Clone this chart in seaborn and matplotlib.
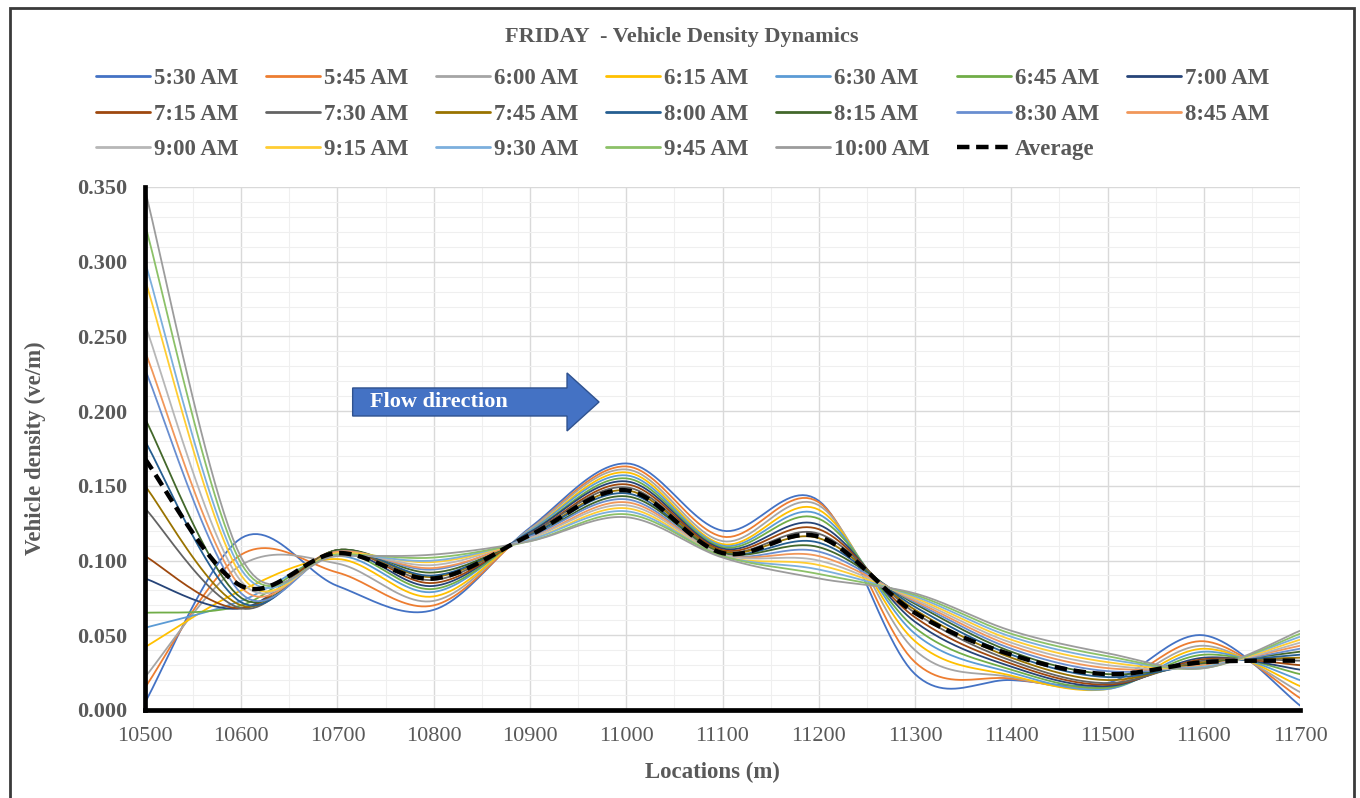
# Friday vehicle density plot

import numpy as np
import pandas as pd
import seaborn as sns
import matplotlib.pyplot as plt
from matplotlib.lines import Line2D
from matplotlib.patches import Polygon, Rectangle
from matplotlib.ticker import MultipleLocator

locations = [10500, 10600, 10700, 10800, 10900, 11000, 11100, 11200, 11300, 11400, 11500, 11600, 11700]

times = ['5:30 AM', '5:45 AM', '6:00 AM', '6:15 AM', '6:30 AM', '6:45 AM', '7:00 AM',
         '7:15 AM', '7:30 AM', '7:45 AM', '8:00 AM', '8:15 AM', '8:30 AM', '8:45 AM',
         '9:00 AM', '9:15 AM', '9:30 AM', '9:45 AM', '10:00 AM']

colors = ['#4472C4', '#ED7D31', '#A5A5A5', '#FFC000', '#5B9BD5', '#70AD47', '#264478',
          '#9E480E', '#636363', '#997300', '#255E91', '#43682B', '#698ED0', '#F1975A',
          '#B7B7B7', '#FFCD33', '#7CAFDD', '#8CC168', '#9C9C9C']

# density (ve/m) per time slot
d_0530 = [0.005, 0.115, 0.083, 0.067, 0.122, 0.165, 0.120, 0.140, 0.024, 0.020, 0.018, 0.050, 0.003]
d_0545 = [0.015, 0.104, 0.092, 0.070, 0.121, 0.163, 0.116, 0.139, 0.032, 0.021, 0.016, 0.046, 0.008]
d_0600 = [0.022, 0.097, 0.098, 0.073, 0.121, 0.161, 0.113, 0.137, 0.040, 0.022, 0.015, 0.043, 0.012]
d_0615 = [0.042, 0.080, 0.101, 0.076, 0.120, 0.159, 0.111, 0.134, 0.046, 0.023, 0.014, 0.041, 0.016]
d_0630 = [0.055, 0.073, 0.103, 0.079, 0.120, 0.157, 0.110, 0.131, 0.051, 0.025, 0.014, 0.039, 0.020]
d_0645 = [0.065, 0.070, 0.105, 0.081, 0.119, 0.155, 0.109, 0.128, 0.055, 0.027, 0.015, 0.037, 0.024]
d_0700 = [0.088, 0.068, 0.106, 0.083, 0.119, 0.153, 0.108, 0.124, 0.059, 0.029, 0.016, 0.035, 0.027]
d_0715 = [0.103, 0.068, 0.107, 0.085, 0.118, 0.151, 0.107, 0.121, 0.062, 0.031, 0.017, 0.034, 0.030]
d_0730 = [0.135, 0.068, 0.107, 0.087, 0.118, 0.149, 0.106, 0.118, 0.065, 0.033, 0.018, 0.033, 0.033]
d_0745 = [0.150, 0.070, 0.107, 0.089, 0.117, 0.147, 0.106, 0.115, 0.067, 0.035, 0.020, 0.032, 0.035]
d_0800 = [0.180, 0.072, 0.107, 0.090, 0.117, 0.145, 0.105, 0.112, 0.069, 0.037, 0.022, 0.031, 0.037]
d_0815 = [0.195, 0.075, 0.107, 0.092, 0.116, 0.143, 0.105, 0.109, 0.071, 0.039, 0.024, 0.031, 0.039]
d_0830 = [0.228, 0.078, 0.106, 0.094, 0.116, 0.141, 0.104, 0.106, 0.072, 0.041, 0.026, 0.030, 0.041]
d_0845 = [0.240, 0.082, 0.106, 0.095, 0.115, 0.139, 0.104, 0.103, 0.073, 0.043, 0.028, 0.030, 0.043]
d_0900 = [0.258, 0.086, 0.105, 0.097, 0.115, 0.137, 0.104, 0.100, 0.074, 0.045, 0.030, 0.029, 0.045]
d_0915 = [0.288, 0.090, 0.105, 0.099, 0.114, 0.135, 0.103, 0.097, 0.075, 0.047, 0.032, 0.029, 0.047]
d_0930 = [0.300, 0.094, 0.104, 0.100, 0.114, 0.133, 0.103, 0.094, 0.076, 0.049, 0.034, 0.029, 0.049]
d_0945 = [0.325, 0.098, 0.104, 0.102, 0.113, 0.131, 0.103, 0.091, 0.077, 0.051, 0.036, 0.028, 0.051]
d_1000 = [0.348, 0.102, 0.103, 0.104, 0.113, 0.129, 0.102, 0.088, 0.078, 0.053, 0.038, 0.028, 0.053]
average = [0.168, 0.083, 0.105, 0.088, 0.117, 0.147, 0.105, 0.116, 0.065, 0.037, 0.024, 0.032, 0.033]

series = [d_0530, d_0545, d_0600, d_0615, d_0630, d_0645, d_0700, d_0715, d_0730, d_0745,
          d_0800, d_0815, d_0830, d_0845, d_0900, d_0915, d_0930, d_0945, d_1000]

SERIF = ['Liberation Serif', 'DejaVu Serif']
GREY = '#595959'


def smooth(xs, ys, n=24):
    # Excel style smoothed line (bezier through every point)
    p = np.column_stack([xs, ys]).astype(float)
    k = len(p)
    out = []
    for i in range(k - 1):
        p0 = p[max(i - 1, 0)]
        p1, p2 = p[i], p[i + 1]
        p3 = p[min(i + 2, k - 1)]
        c1 = p1 + (p2 - p0) / 6
        c2 = p2 - (p3 - p1) / 6
        t = np.linspace(0, 1, n, endpoint=(i == k - 2))[:, None]
        seg = (1 - t) ** 3 * p1 + 3 * (1 - t) ** 2 * t * c1 + 3 * (1 - t) * t ** 2 * c2 + t ** 3 * p2
        out.append(seg)
    out = np.vstack(out)
    return out[:, 0], out[:, 1]


def make_plot():
    sns.set_theme(style="whitegrid")
    plt.rcParams['font.family'] = SERIF
    fig = plt.figure(figsize=(13.6, 7.98), dpi=100)
    ax = fig.add_axes([0.1066, 0.1103, 0.8493, 0.6554])
    ax.set_facecolor('white')

    rows = []
    for name, vals in zip(times, series):
        sx, sy = smooth(locations, vals)
        rows.append(pd.DataFrame({'loc': sx, 'density': sy, 'time': name}))
    df = pd.concat(rows, ignore_index=True)

    sns.lineplot(ax=ax, data=df, x='loc', y='density', hue='time', hue_order=times,
                 palette=colors, linewidth=1.3, sort=False, estimator=None, legend=False)

    ax_x, ax_y = smooth(locations, average)
    avg_df = pd.DataFrame({'loc': ax_x, 'density': ax_y})
    sns.lineplot(ax=ax, data=avg_df, x='loc', y='density', color='black', linewidth=3.2,
                 linestyle=(0, (2.8, 1.5)), sort=False, estimator=None, zorder=5)

    ax.set_xlim(10500, 11700)
    ax.set_ylim(0, 0.35)
    ax.xaxis.set_major_locator(MultipleLocator(100))
    ax.xaxis.set_minor_locator(MultipleLocator(50))
    ax.yaxis.set_major_locator(MultipleLocator(0.05))
    ax.yaxis.set_minor_locator(MultipleLocator(0.01))
    ax.yaxis.set_major_formatter(lambda v, pos: f'{v:.3f}')
    ax.grid(which='major', color='#D9D9D9', linewidth=1.0)
    ax.grid(which='minor', color='#EFEFEF', linewidth=0.8)
    ax.set_axisbelow(True)

    for side in ['top', 'right']:
        ax.spines[side].set_visible(False)
    for side in ['left', 'bottom']:
        ax.spines[side].set_color('black')
        ax.spines[side].set_linewidth(3.4)
        ax.spines[side].set_zorder(6)
    ax.tick_params(which='major', direction='inout', length=11, width=3, color='black',
                   labelcolor=GREY, labelsize=16, pad=7)
    ax.tick_params(which='minor', length=0)
    for lab in ax.get_yticklabels():
        lab.set_fontweight('bold')

    ax.set_xlabel('Locations (m)', fontsize=16.5, fontweight='bold', color=GREY)
    ax.set_ylabel('Vehicle density (ve/m)', fontsize=16.5, fontweight='bold', color=GREY)
    ax.xaxis.label.set_va('center')
    ax.yaxis.label.set_va('center')
    ax.xaxis.set_label_coords(0.491, -0.1185)
    ax.yaxis.set_label_coords(-0.0952, 0.5)

    # flow direction block arrow
    arrow = Polygon([(0.1798, 0.6157), (0.3654, 0.6157), (0.3654, 0.6444), (0.3931, 0.5889),
                     (0.3654, 0.5335), (0.3654, 0.5621), (0.1798, 0.5621)], closed=True,
                    transform=ax.transAxes, facecolor='#4472C4', edgecolor='#2F528F',
                    linewidth=1.0, zorder=7)
    ax.add_patch(arrow)
    ax.text(0.1948, 0.589, 'Flow direction', transform=ax.transAxes, color='white',
            fontsize=16, fontweight='bold', va='center', ha='left', zorder=8)

    # legend laid out row by row like the original
    labels = times + ['Average']
    handles = [Line2D([], [], color=c, linewidth=2.0) for c in colors]
    handles.append(Line2D([], [], color='black', linewidth=3.2, linestyle=(0, (2.8, 1.5))))
    order = []
    for c in range(7):
        for r in range(3):
            idx = r * 7 + c
            if idx < len(labels):
                order.append(idx)
    leg = fig.legend([handles[i] for i in order], [labels[i] for i in order],
                     ncol=7, loc='center', bbox_to_anchor=(0.502, 0.857), frameon=False,
                     prop={'family': SERIF, 'weight': 'bold', 'size': 16.5},
                     handlelength=2.36, handletextpad=0.17, columnspacing=1.2,
                     labelspacing=0.63)
    for t in leg.get_texts():
        t.set_color(GREY)

    fig.text(0.5015, 1 - 37 / 798, 'FRIDAY  - Vehicle Density Dynamics', ha='center',
             va='center', fontsize=16, fontweight='bold', color=GREY)

    fig.patches.append(Rectangle((10 / 1360, -0.05), 1344 / 1360, 1.05 - 8 / 798,
                                 transform=fig.transFigure, fill=False,
                                 edgecolor='#3A3A3A', linewidth=2.0))

    fig.savefig('out.png', dpi=100, facecolor='white')


if __name__ == '__main__':
    make_plot()
